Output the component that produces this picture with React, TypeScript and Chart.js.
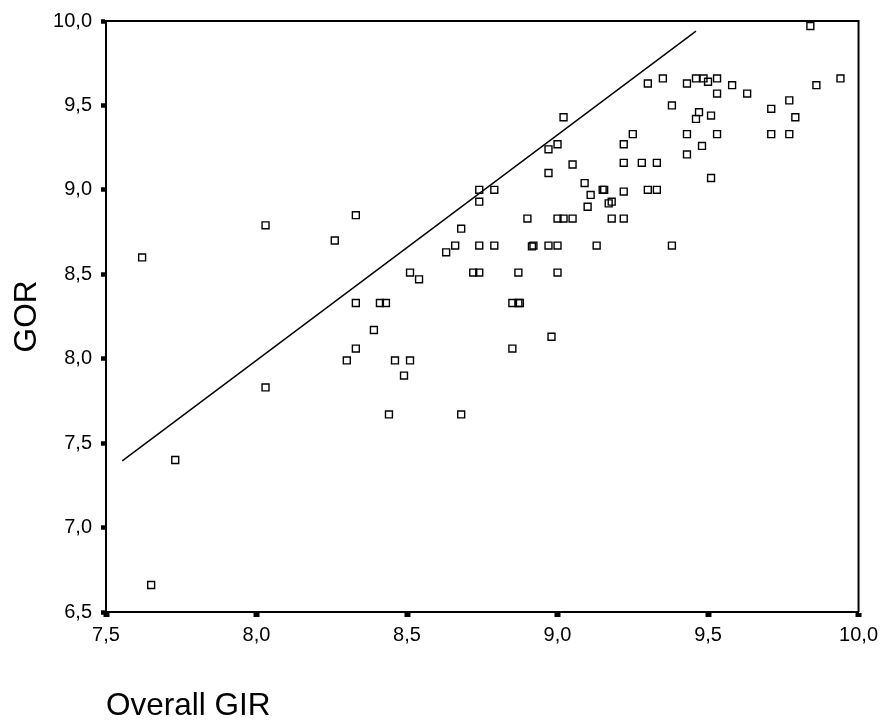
import React, { useEffect, useRef } from "react";
import { Chart, registerables } from "chart.js";

Chart.register(...registerables);

// Overall GIR (x) and GOR (y) for each observation
const gir = [
  7.62, 7.65, 7.73, 8.03, 8.03, 8.26, 8.33, 8.33, 8.33, 8.30,
  8.39, 8.41, 8.43, 8.44, 8.46, 8.49, 8.51, 8.51, 8.54, 8.63,
  8.66, 8.68, 8.68, 8.72, 8.74, 8.74, 8.74, 8.79, 8.74, 8.79,
  8.85, 8.87, 8.875, 8.87, 8.85, 8.90, 8.92, 8.915, 8.97, 9.00,
  9.00, 8.98, 9.00, 9.02, 9.05, 9.02, 9.00, 8.97, 8.97, 9.05,
  9.09, 9.15, 9.155, 9.11, 9.10, 9.18, 9.17, 9.18, 9.22, 9.22,
  9.13, 9.22, 9.28, 9.33, 9.22, 9.25, 9.30, 9.33, 9.30, 9.35,
  9.38, 9.38, 9.43, 9.46, 9.485, 9.50, 9.53, 9.58, 9.53, 9.63,
  9.47, 9.46, 9.51, 9.43, 9.53, 9.48, 9.43, 9.51, 9.71, 9.77,
  9.79, 9.71, 9.77, 9.84, 9.86, 9.94,
];
const gor = [
  8.60, 6.66, 7.40, 8.79, 7.83, 8.70, 8.85, 8.33, 8.06, 7.99,
  8.17, 8.33, 8.33, 7.67, 7.99, 7.90, 7.99, 8.51, 8.47, 8.63,
  8.67, 8.77, 7.67, 8.51, 8.51, 9.00, 8.93, 9.00, 8.67, 8.67,
  8.33, 8.33, 8.33, 8.51, 8.06, 8.83, 8.67, 8.665, 8.67, 8.67,
  8.51, 8.13, 8.83, 8.83, 8.83, 9.43, 9.27, 9.24, 9.10, 9.15,
  9.04, 9.00, 9.00, 8.97, 8.90, 8.93, 8.92, 8.83, 8.83, 8.99,
  8.67, 9.16, 9.16, 9.16, 9.27, 9.33, 9.00, 9.00, 9.63, 9.66,
  9.50, 8.67, 9.63, 9.66, 9.66, 9.64, 9.66, 9.62, 9.57, 9.57,
  9.46, 9.42, 9.44, 9.33, 9.33, 9.26, 9.21, 9.07, 9.48, 9.53,
  9.43, 9.33, 9.33, 9.97, 9.62, 9.66,
];

// Reference line endpoints
const lineX = [7.554, 9.46];
const lineY = [7.395, 9.94];

// Axis ranges / ticks
const xRange = [7.5, 10.0];
const yRange = [6.5, 10.0];
const tickStep = 0.5;

const xTitle = "Overall GIR";
const yTitle = "GOR";

const FONT = "'Liberation Sans', Arial, sans-serif";

const fmt = (v: number | string) => Number(v).toFixed(1).replace(".", ",");

const framePlugin = {
  id: "frame",
  afterDatasetsDraw(chart: any) {
    const { ctx, chartArea } = chart;
    const { left, top, right, bottom } = chartArea;
    ctx.save();
    ctx.strokeStyle = "#000";
    ctx.lineWidth = 2;
    ctx.beginPath();
    ctx.moveTo(left, top);
    ctx.lineTo(right, top);
    ctx.lineTo(right, bottom);
    ctx.stroke();
    ctx.restore();
  },
};

export default function App() {
  const ref = useRef<HTMLCanvasElement | null>(null);

  useEffect(() => {
    if (!ref.current) return;
    const points = gir.map((x, i) => ({ x, y: gor[i] }));
    const line = lineX.map((x, i) => ({ x, y: lineY[i] }));

    const chart = new Chart(ref.current, {
      type: "scatter",
      data: {
        datasets: [
          {
            label: "GOR",
            data: points,
            pointStyle: "rect",
            pointRadius: 4.9,
            pointHoverRadius: 4.9,
            pointBorderWidth: 1.4,
            borderColor: "#000",
            backgroundColor: "rgba(0,0,0,0)",
            clip: false as any,
          },
          {
            label: "Line",
            data: line,
            showLine: true,
            pointRadius: 0,
            borderColor: "#000",
            borderWidth: 1.4,
            backgroundColor: "#000",
          },
        ],
      },
      options: {
        animation: false,
        responsive: false,
        devicePixelRatio: 1,
        layout: { padding: { top: 16.5, right: 24, bottom: 0, left: 0 } },
        plugins: {
          legend: { display: false },
          tooltip: { enabled: false },
        },
        scales: {
          x: {
            type: "linear",
            position: "bottom",
            min: xRange[0],
            max: xRange[1],
            ticks: {
              stepSize: tickStep,
              padding: 6,
              color: "#000",
              font: { family: FONT, size: 20 },
              callback: (v: any) => fmt(v),
            },
            grid: {
              drawOnChartArea: false,
              drawTicks: true,
              tickLength: 5,
              tickWidth: 6,
              tickColor: "#000",
            },
            border: { display: true, color: "#000", width: 2 },
            title: {
              display: true,
              text: xTitle,
              align: "start",
              color: "#000",
              font: { family: FONT, size: 31.5 },
              padding: { top: 0, bottom: 0 },
            },
            afterFit: (scale: any) => {
              scale.height = 113;
            },
          },
          y: {
            type: "linear",
            position: "left",
            min: yRange[0],
            max: yRange[1],
            ticks: {
              stepSize: tickStep,
              padding: 9,
              color: "#000",
              font: { family: FONT, size: 20 },
              callback: (v: any) => fmt(v),
            },
            grid: {
              drawOnChartArea: false,
              drawTicks: true,
              tickLength: 5,
              tickWidth: 4.5,
              tickColor: "#000",
            },
            border: { display: true, color: "#000", width: 2 },
            title: {
              display: true,
              text: yTitle,
              color: "#000",
              font: { family: FONT, size: 31.5 },
              padding: { top: 8, bottom: 0 },
            },
            afterFit: (scale: any) => {
              scale.width = 106;
            },
          },
        },
      } as any,
      plugins: [framePlugin],
    });
    return () => chart.destroy();
  }, []);

  return (
    <canvas
      ref={ref}
      width={884}
      height={725}
      style={{ position: "fixed", left: 0, top: 0, width: 884, height: 725, background: "#fff" }}
    />
  );
}
